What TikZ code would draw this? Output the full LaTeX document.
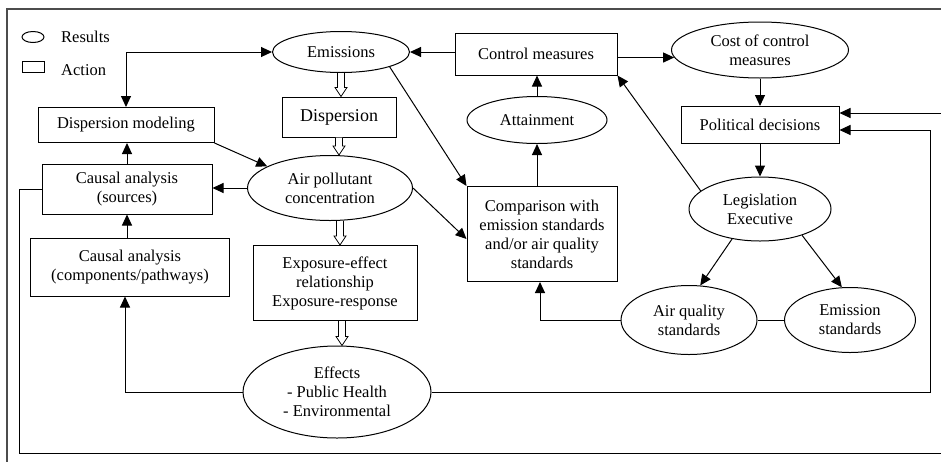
\documentclass[tikz,border=0pt]{standalone}
\usepackage{fontspec}
\setmainfont{Liberation Serif}
\usetikzlibrary{shapes.geometric,arrows.meta,calc}
\newcommand\hollowdown[2]{%
  \draw[hollow] ($(#1)+(-3.5,0)$) -- ($(#2)+(-3.5,-9)$) -- ($(#2)+(-6,-9)$) -- (#2)
    -- ($(#2)+(6,-9)$) -- ($(#2)+(3.5,-9)$) -- ($(#1)+(3.5,0)$);}
\begin{document}
\begin{tikzpicture}[x=1pt,y=-1pt,
  every node/.style={font=\fontsize{16.5}{19}\selectfont, align=center, inner sep=0pt},
  box/.style={draw, rectangle, line width=1pt},
  oval/.style={draw, ellipse, line width=1pt},
  arr/.style={line width=1pt, -{Triangle[length=11pt,width=10pt]}},
  arrboth/.style={line width=1pt, {Triangle[length=11pt,width=10pt]}-{Triangle[length=11pt,width=10pt]}},
  link/.style={line width=1pt},
  hollow/.style={line width=0.8pt, fill=white},
  frame/.style={line width=1.2pt, draw=black!70}
]
\useasboundingbox (0,0) rectangle (941,461);
\clip (0,0) rectangle (941,461);

% frame (partly visible)
\draw[frame] (980,9) -- (7,9) -- (7,500);

% legend
\node[draw, ellipse, line width=1pt, minimum width=22pt, minimum height=11pt] (lres) at (33,37) {};
\node[anchor=west] (lrest) at (61,37) {Results};
\node[draw, line width=1pt, minimum width=22pt, minimum height=11pt] (lact) at (33,67) {};
\node[anchor=west] (lactt) at (61,70) {Action};

% nodes
\node[oval, minimum width=137pt, minimum height=41pt] (em) at (341,52) {Emissions};
\node[box, minimum width=162pt, minimum height=42pt] (cm) at (536,54) {Control measures};
\node[oval, minimum width=177pt, minimum height=56pt] (cost) at (760,50) {Cost of control\\measures};
\node[box, minimum width=158pt, minimum height=37pt] (pd) at (760,125) {Political decisions};
\node[oval, minimum width=142pt, minimum height=64pt] (leg) at (760,209) {Legislation\\Executive};
\node[oval, minimum width=136pt, minimum height=69pt] (aqs) at (689,320) {Air quality\\standards};
\node[oval, minimum width=131pt, minimum height=65pt] (es) at (850,320) {Emission\\standards};
\node[oval, minimum width=140pt, minimum height=47pt] (att) at (537,120) {Attainment};
\node[box, minimum width=150pt, minimum height=95pt] (cmp) at (542,234) {Comparison with\\emission standards\\and/or air quality\\standards};
\node[box, minimum width=114pt, minimum height=40pt, font=\fontsize{18}{20}\selectfont] (disp) at (339,117) {Dispersion};
\node[oval, minimum width=165pt, minimum height=65pt] (apc) at (330,188) {Air pollutant\\concentration};
\node[box, minimum width=176pt, minimum height=35pt] (dm) at (126,125) {Dispersion modeling};
\node[box, minimum width=170pt, minimum height=50pt] (src) at (127,189) {Causal analysis\\(sources)};
\node[box, minimum width=199pt, minimum height=58pt] (comp) at (130,267) {Causal analysis\\(components/pathways)};
\node[box, minimum width=164pt, minimum height=75pt] (exp) at (335,283) {Exposure-effect\\relationship\\Exposure-response};
\node[oval, minimum width=188pt, minimum height=92pt] (eff) at (337,392) {Effects\\- Public Health\\- Environmental};

% hollow arrows
\coordinate (h1a) at (em.south);
\coordinate (h1b) at (em.south |- disp.north);
\hollowdown{h1a}{h1b}
\coordinate (h2a) at (disp.south);
\coordinate (h2b) at (disp.south |- apc.north);
\hollowdown{h2a}{h2b}
\coordinate (h3a) at ($(apc.south)+(10,0)$);
\coordinate (h3b) at (h3a |- exp.north);
\hollowdown{h3a}{h3b}
\coordinate (h4a) at ($(exp.south)+(7,0)$);
\coordinate (h4b) at (h4a |- eff.north);
\hollowdown{h4a}{h4b}

% connectors
\draw[arrboth] (dm.north) |- (em.west);
\draw[arr] (cm.west |- em.east) -- (em.east);
\draw[arr] (cm.east |- cost.185) -- (cost.185);
\draw[arr] (cost.south) -- (cost.south |- pd.north);
\draw[arr] (pd.south) -- (pd.south |- leg.north);
\draw[arr] (leg.163) -- (cm.south east);
\draw[arr] (att.north) -- (att.north |- cm.south);
\draw[arr] (att.south |- cmp.north) -- (att.south);
\draw[arr] (em.-17) -- (cmp.north west);
\draw[arr] (apc.east) -- ($(cmp.west)+(0,5)$);
\draw[arr] (aqs.west) -| ($(cmp.south)+(-2,0)$);
\draw[link] (aqs.east) -- (es.west);
\draw[arr] (leg.227) -- (aqs.72);
\draw[arr] (leg.-32) -- (es.104);
\draw[arr] (dm.south east) -- (apc.161);
\draw[arr] (apc.west) -- (apc.west -| src.east);
\draw[arr] (src.north) -- (src.north |- dm.south);
\draw[arr] (src.south |- comp.north) -- (src.south);
\draw[arr] (eff.west) -| ($(comp.south)+(-5,0)$);
\coordinate (cR) at (930,130);
\draw[arr] (eff.east) -| (cR) -- (cR -| pd.east);
\coordinate (cL) at (19,453);
\coordinate (cFar) at (960,113);
\draw[arr] (src.west) -| (cL) -| (cFar) -- (cFar -| pd.east);
\end{tikzpicture}
\end{document}
